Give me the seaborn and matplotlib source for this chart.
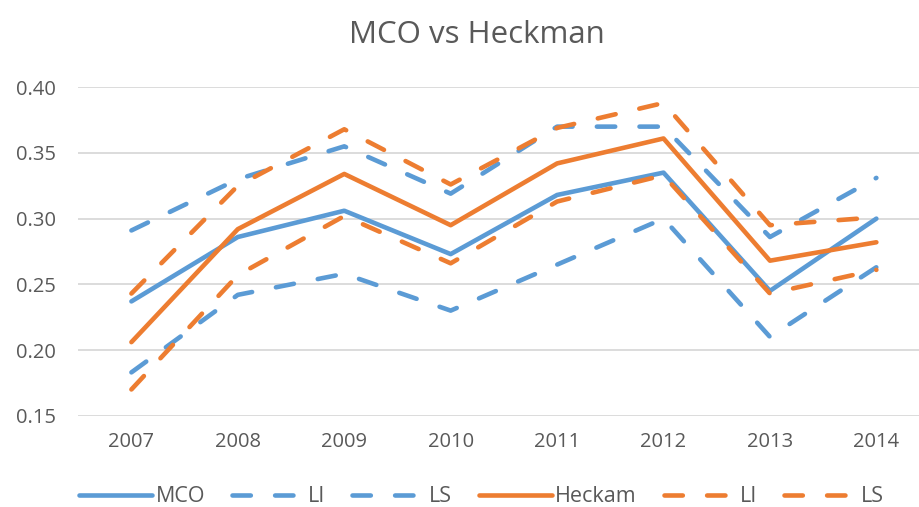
import numpy as np
import pandas as pd
import matplotlib
matplotlib.use("Agg")
import matplotlib.pyplot as plt
import seaborn as sns

#%% Data

years = [2007, 2008, 2009, 2010, 2011, 2012, 2013, 2014]

mco = [0.237, 0.286, 0.306, 0.273, 0.318, 0.335, 0.245, 0.300]
mco_li = [0.183, 0.242, 0.258, 0.230, 0.265, 0.300, 0.210, 0.263]
mco_ls = [0.291, 0.330, 0.355, 0.319, 0.370, 0.370, 0.286, 0.331]

heck = [0.206, 0.292, 0.334, 0.295, 0.342, 0.361, 0.268, 0.282]
heck_li = [0.170, 0.257, 0.302, 0.266, 0.313, 0.333, 0.243, 0.261]
heck_ls = [0.243, 0.325, 0.368, 0.326, 0.369, 0.388, 0.295, 0.301]

blue = "#5B9BD5"
orange = "#ED7D31"
grey = "#595959"

series = [("MCO", mco, blue, "solid"),
          ("LI", mco_li, blue, "dash"),
          ("LS", mco_ls, blue, "dash"),
          ("Heckam", heck, orange, "solid"),
          ("LI", heck_li, orange, "dash"),
          ("LS", heck_ls, orange, "dash")]

#%% Plot

sns.set_style("white")
plt.rcParams['font.family'] = ['Open Sans', 'DejaVu Sans']

fig = plt.figure(figsize=(9.2, 5.07), dpi=100)
ax = fig.add_axes([0.085, 0.18, 0.915, 0.648])

for name, vals, col, kind in series:
    df = pd.DataFrame({"year": years, "value": vals})
    sns.lineplot(data=df, x="year", y="value", ax=ax, color=col,
                 linewidth=3.3, label=name)
    l = ax.lines[-1]
    if kind == "dash":
        l.set_dashes((4, 5.3))
        l.set_dash_capstyle("round")
    l.set_solid_capstyle("round")

ticks = np.arange(0.15, 0.401, 0.05)
ax.set_ylim(0.15, 0.40)
ax.set_yticks(ticks)
ax.set_yticklabels([f"{t:.2f}" for t in ticks])
ax.set_xlim(2006.5, 2014.41)
ax.set_xticks(years)
ax.set_xticklabels([str(y) for y in years])

ax.yaxis.grid(True, color="#D9D9D9", linewidth=1.3)
ax.xaxis.grid(False)
for s in ax.spines.values():
    s.set_visible(False)
ax.tick_params(axis="both", length=0, labelsize=14.5, colors=grey)
ax.tick_params(axis="x", pad=12)
ax.tick_params(axis="y", pad=16)
ax.set_xlabel("")
ax.set_ylabel("")

fig.text(0.518, 0.915, "MCO vs Heckman", ha="center", va="baseline",
         fontsize=22.5, color=grey)

leg = ax.legend(loc="center", bbox_to_anchor=(0.479, -0.246), ncol=6,
                frameon=False, fontsize=15.5, handlelength=3.4,
                handletextpad=0.15, columnspacing=1.25)
for t in leg.get_texts():
    t.set_color(grey)

plt.savefig("out.png", dpi=100)
